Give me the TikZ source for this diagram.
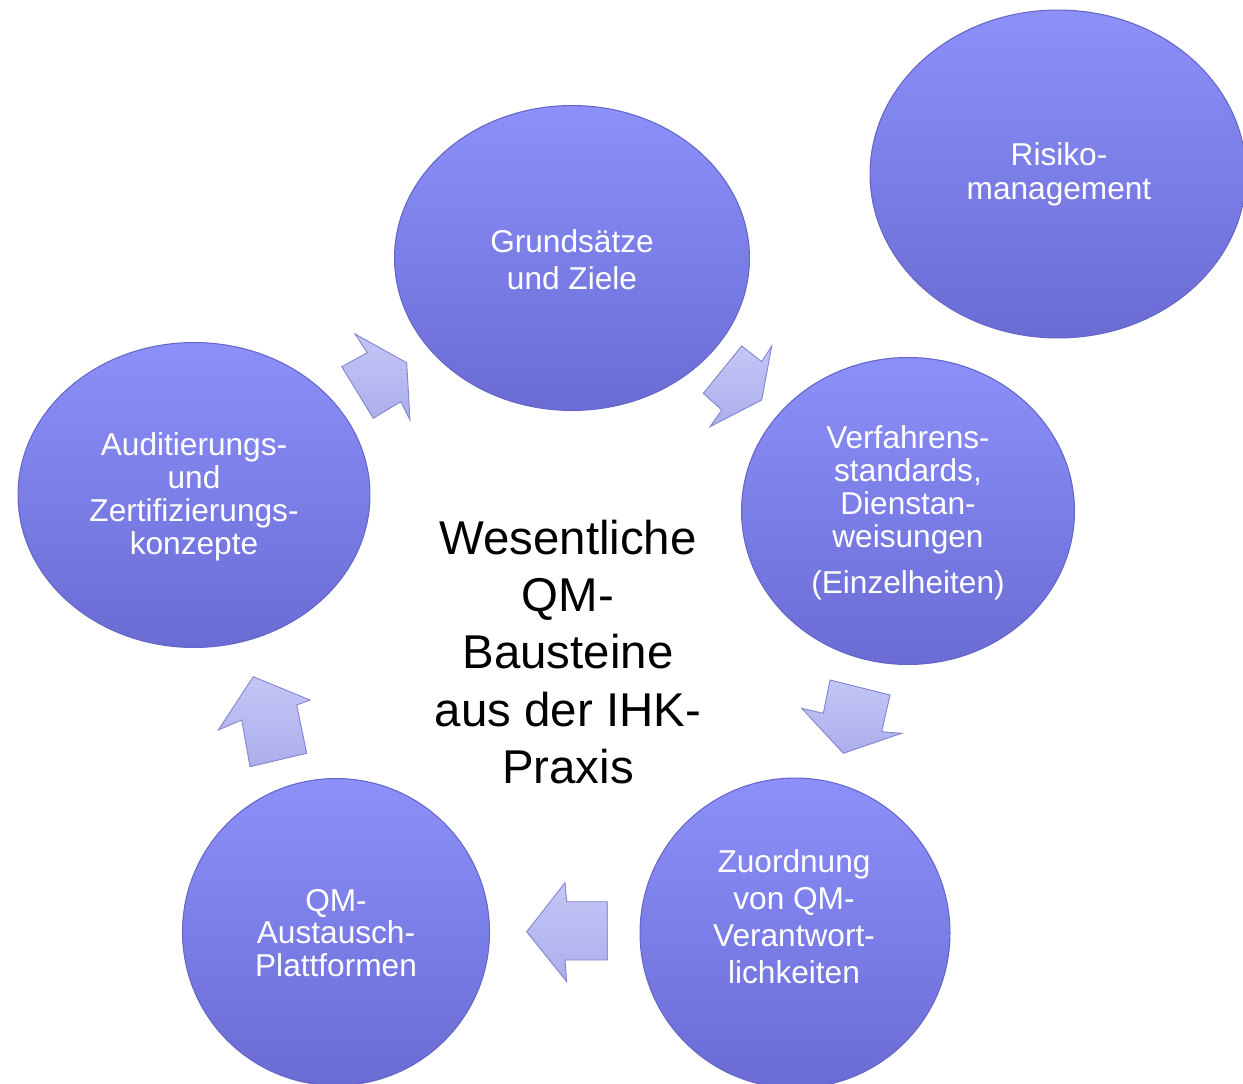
\documentclass[tikz,border=0pt]{standalone}
\usepackage{fontspec}
\setmainfont{Liberation Sans}
\usetikzlibrary{shapes.geometric}
\definecolor{elltop}{RGB}{142,144,250}
\definecolor{ellbot}{RGB}{106,108,212}
\definecolor{ellrim}{RGB}{100,102,200}
\definecolor{arrfill}{RGB}{172,174,236}
\definecolor{arrrim}{RGB}{130,132,208}
\definecolor{arrlight}{RGB}{196,198,246}
\tikzset{
  bub/.style={ellipse, draw=ellrim, line width=0.6pt, top color=elltop, bottom color=ellbot,
    inner sep=0pt, text=white, align=center, font=\fontsize{18}{18.7}\selectfont},
  bubtxt/.style={text=white, align=center, inner sep=0pt, font=\fontsize{18}{18.7}\selectfont},
  blockarrow/.style={draw=arrrim, line width=0.5pt, line join=miter, top color=arrlight, bottom color=arrfill},
  centertxt/.style={text=black, align=center, inner sep=0pt, font=\fontsize{27}{32.6}\selectfont}
}
\begin{document}
\begin{tikzpicture}[x=0.02cm,y=-0.02cm]
\clip (0,0) rectangle (1243,1084);
\fill[white] (0,0) rectangle (1243,1084);

% circles
\node[bub, minimum width=7.1cm, minimum height=6.1cm] (g) at (572,258) {};
\node[bubtxt, font=\fontsize{18}{21}\selectfont] (gt) at (572,260) {Grundsätze\\und Ziele};
\node[bub, minimum width=7.52cm, minimum height=6.56cm] (r) at (1058,174) {};
\node[bubtxt, font=\fontsize{18}{19.3}\selectfont] (rt) at (1059,174) {Risiko-\\management};
\node[bub, minimum width=6.66cm, minimum height=6.14cm] (v) at (908,511) {};
\node[bubtxt] (vt) at (908,513) {Verfahrens-\\standards,\\Dienstan-\\weisungen\\[7.4pt](Einzelheiten)};
\node[bub, minimum width=6.2cm, minimum height=6.2cm] (z) at (795,933) {};
\node[bubtxt, font=\fontsize{18}{21}\selectfont] (zt) at (794,917) {Zuordnung\\von QM-\\Verantwort-\\lichkeiten};
\node[bub, minimum width=6.14cm, minimum height=6.14cm] (q) at (336,932) {};
\node[bubtxt] (qt) at (336,933) {QM-\\Austausch-\\Plattformen};
\node[bub, minimum width=7.04cm, minimum height=6.1cm] (a) at (194,495) {};
\node[bubtxt] (at) at (194,497) {Auditierungs-\\und\\Zertifizierungs-\\konzepte};

% block arrows
\draw[blockarrow] (406.7,362.7) -- (355,334) -- (367.3,352.7) -- (341.7,366.7) -- (373.3,418.3) -- (400.7,401.7) -- (410,420) -- cycle;
\draw[blockarrow] (761.7,400) -- (771.7,346) -- (761.7,361.7) -- (741.7,346) -- (703.3,393.3) -- (721.7,410) -- (710,426.7) -- cycle;
\draw[blockarrow] (843.3,753.3) -- (801.7,708.3) -- (823.3,713.3) -- (830,680) -- (890,695) -- (881.7,731.7) -- (901.7,733.3) -- cycle;
\draw[blockarrow] (526.7,931.7) -- (565,882.7) -- (566.7,901.7) -- (607.3,901.7) -- (607.3,960) -- (565,960) -- (566.7,981.7) -- cycle;
\draw[blockarrow] (253.3,676.7) -- (310,700) -- (296.7,705) -- (306.7,753.3) -- (250,766.7) -- (241.7,720) -- (218.3,730) -- cycle;

% centre text
\node[centertxt] (c) at (568,652) {Wesentliche\\QM-\\Bausteine\\aus der IHK-\\Praxis};
\end{tikzpicture}
\end{document}
